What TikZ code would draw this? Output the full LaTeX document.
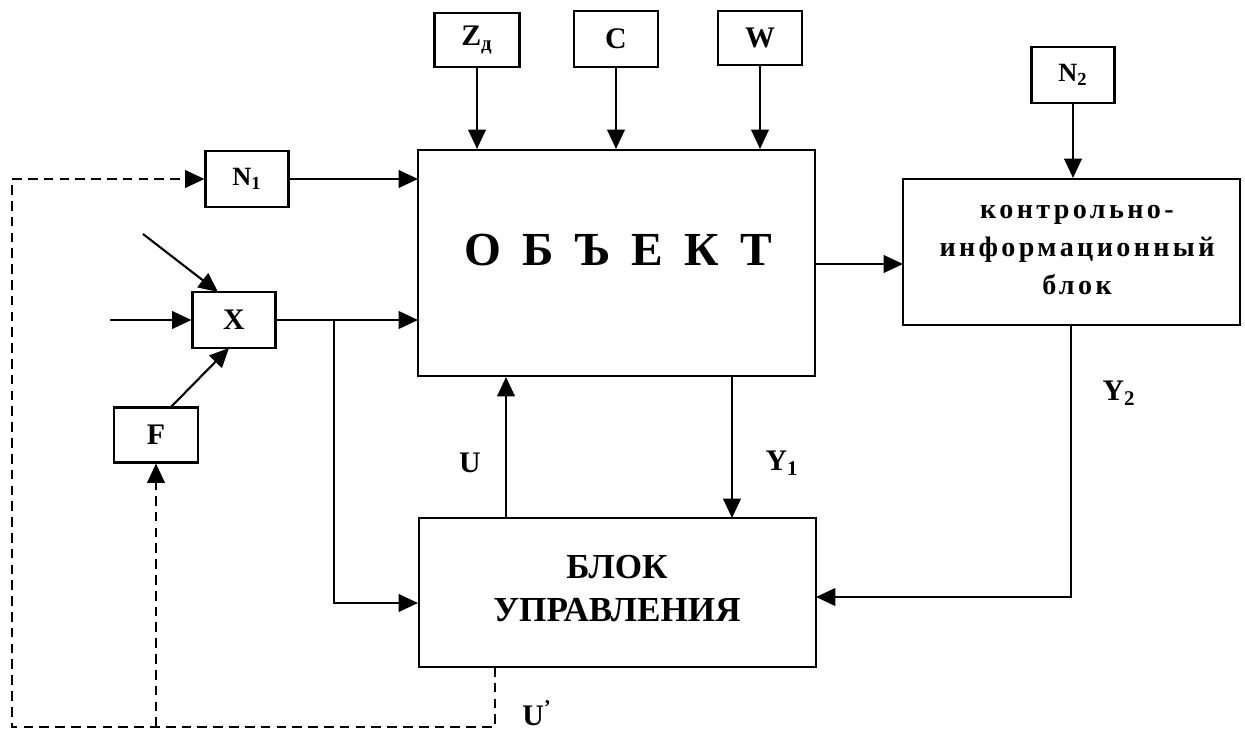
\documentclass[tikz,border=0pt]{standalone}
\usepackage{fontspec}
\setmainfont{Liberation Serif}
\newfontfamily\spacedfont[LetterSpace=12]{Liberation Serif}
\usetikzlibrary{arrows.meta}
\begin{document}
\begin{tikzpicture}[x=0.02cm,y=-0.02cm,
  box/.style={draw,line width=1.2pt,inner sep=0pt,align=center,font=\bfseries\fontsize{17}{20}\selectfont},
  arr/.style={line width=1.2pt,-{Triangle[length=11pt,width=10pt]}},
  dsh/.style={line width=1.2pt,dash pattern=on 5.5pt off 3.5pt},
  lbl/.style={inner sep=0pt,font=\bfseries\fontsize{17}{20}\selectfont}]
\useasboundingbox (0,0) rectangle (1245,733);
% top inputs
\node[box,minimum width=1.7cm,minimum height=1.08cm] (Z) at (477,40) {Z\textsubscript{д}};
\node[box,minimum width=1.68cm,minimum height=1.12cm] (C) at (616,39) {C};
\node[box,minimum width=1.68cm,minimum height=1.08cm] (W) at (760,38) {W};
\node[box,minimum width=1.66cm,minimum height=1.12cm,font=\bfseries\fontsize{15}{18}\selectfont] (N2) at (1073,75) {N\textsubscript{2}};
\node[box,minimum width=1.66cm,minimum height=1.12cm,font=\bfseries\fontsize{15}{18}\selectfont] (N1) at (247,179) {N\textsubscript{1}};
\node[box,minimum width=1.66cm,minimum height=1.12cm] (X) at (234,320) {X};
\node[box,minimum width=1.68cm,minimum height=1.1cm] (F) at (156,435) {F};
% main blocks
\node[box,minimum width=7.94cm,minimum height=4.52cm] (obj) at (616.5,263) {};
\node[lbl,font=\bfseries\fontsize{27}{32}\selectfont] (objt) at (618,250) {О\hspace{12pt}Б\hspace{12pt}Ъ\hspace{12pt}Е\hspace{12pt}К\hspace{12pt}Т};
\node[box,minimum width=7.94cm,minimum height=2.98cm] (blok) at (617.5,592.5) {};
\node[lbl,align=center,font=\bfseries\fontsize{20}{24.5}\selectfont] (blokt) at (617,589) {БЛОК\\УПРАВЛЕНИЯ};
\node[box,minimum width=6.74cm,minimum height=2.92cm] (kib) at (1071.5,252) {};
\node[lbl,align=center,font=\spacedfont\bfseries\fontsize{16}{21.5}\selectfont] (kibt) at (1077,250) {контрольно-\\информационный\\блок};
% coordinates
\coordinate (objN1) at (418,179);
\coordinate (objX) at (418,320);
\coordinate (br) at (334,320);
\coordinate (blokL) at (418,603);
\coordinate (blokR) at (816,597);
\coordinate (objR) at (815,264);
\coordinate (kibL) at (903,264);
\coordinate (kibB) at (1071,325);
\coordinate (xin1) at (143,234);
\coordinate (xtop) at (218,292);
\coordinate (xin2) at (110,320);
\coordinate (ftop) at (170,408);
\coordinate (xbot) at (229,348);
\coordinate (uA) at (506,518);
\coordinate (uB) at (506,377);
\coordinate (yA) at (732,377);
\coordinate (yB) at (732,518);
\coordinate (bd) at (495,667);
\coordinate (bl) at (12,727);
\coordinate (fd) at (156,727);
% connectors
\draw[arr] (Z.south) -- (Z.south |- obj.north);
\draw[arr] (C.south) -- (C.south |- obj.north);
\draw[arr] (W.south) -- (W.south |- obj.north);
\draw[arr] (N2.south) -- (N2.south |- kib.north);
\draw[arr] (N1.east) -- (objN1);
\draw[arr] (X.east) -- (objX);
\draw[arr] (br) |- (blokL);
\draw[arr] (xin1) -- (xtop);
\draw[arr] (xin2) -- (X.west);
\draw[arr] (ftop) -- (xbot);
\draw[arr] (uA) -- (uB);
\draw[arr] (yA) -- (yB);
\draw[arr] (objR) -- (kibL);
\draw[arr] (kibB) |- (blokR);
\draw[dsh,-{Triangle[length=11pt,width=10pt]}] (bd) |- (bl) |- (N1.west);
\draw[dsh,-{Triangle[length=11pt,width=10pt]}] (fd) -- (F.south);
% labels
\node[lbl] (lU) at (470,463) {U};
\node[lbl] (lY1) at (782,463) {Y\textsubscript{1}};
\node[lbl] (lY2) at (1119,393) {Y\textsubscript{2}};
\node[lbl] (lU2) at (537,713) {U\textsuperscript{'}};
\end{tikzpicture}
\end{document}
